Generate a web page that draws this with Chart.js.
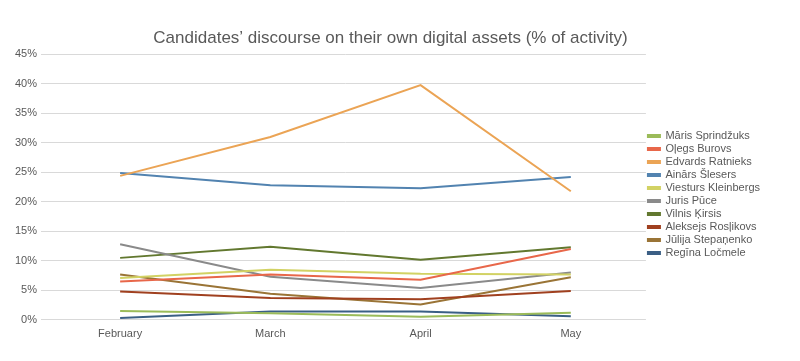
<!DOCTYPE html>
<html>
<head>
<meta charset="utf-8">
<script src="https://cdn.jsdelivr.net/npm/chart.js@4/dist/chart.umd.min.js"></script>
<style>
  html, body { margin: 0; padding: 0; background: #fff; }
  #wrap { width: 800px; height: 361px; }
</style>
</head>
<body>
<div id="wrap"><canvas id="chart"></canvas></div>
<script>
// Data (% of activity)
const months = ['February', 'March', 'April', 'May'];
const yTicks = [0, 5, 10, 15, 20, 25, 30, 35, 40, 45];

const marisSprindzuks   = [1.5, 1.1, 0.5, 1.2];
const olegsBurovs       = [6.5, 7.7, 6.8, 12.0];
const edvardsRatnieks   = [24.4, 31.0, 39.8, 21.8];
const ainarsSlesers     = [24.9, 22.8, 22.3, 24.2];
const viestursKleinbergs = [7.1, 8.5, 7.8, 7.7];
const jurisPuce         = [12.8, 7.3, 5.4, 8.0];
const vilnisKirsis      = [10.5, 12.4, 10.2, 12.3];
const aleksejsRosljkovs = [4.8, 3.7, 3.5, 4.9];
const julijaStepanenko  = [7.7, 4.4, 2.6, 7.2];
const reginaLocmele     = [0.3, 1.4, 1.4, 0.6];

const series = [
    ['Māris Sprindžuks', marisSprindzuks, '#9bbb59'],
    ['Oļegs Burovs', olegsBurovs, '#e8674a'],
    ['Edvards Ratnieks', edvardsRatnieks, '#eba455'],
    ['Ainārs Šlesers', ainarsSlesers, '#5283b0'],
    ['Viesturs Kleinbergs', viestursKleinbergs, '#d2d264'],
    ['Juris Pūce', jurisPuce, '#8a8a8a'],
    ['Vilnis Ķirsis', vilnisKirsis, '#62782f'],
    ['Aleksejs Rosļikovs', aleksejsRosljkovs, '#a0401f'],
    ['Jūlija Stepaņenko', julijaStepanenko, '#9a7436'],
    ['Regīna Ločmele', reginaLocmele, '#3b5f85']
];

const ctx = document.getElementById('chart').getContext('2d');
new Chart(ctx, {
    type: 'line',
    data: {
        labels: months,
        datasets: series.map(([label, data, color]) => ({
            label,
            data,
            borderColor: color,
            backgroundColor: color,
            borderWidth: 2,
            pointRadius: 0,
            tension: 0,
            fill: false
        }))
    },
    options: {
        responsive: true,
        maintainAspectRatio: false,
        animation: false,
        layout: { padding: { left: 11, right: 30, top: 22, bottom: 20 } },
        plugins: {
            title: {
                display: true,
                text: 'Candidates’ discourse on their own digital assets (% of activity)',
                color: '#595959',
                font: { family: 'Liberation Sans, Arial, sans-serif', size: 17, weight: 'normal' },
                padding: { top: 6, bottom: 6 }
            },
            legend: {
                position: 'right',
                // empty title only nudges the legend items down a little
                title: { display: true, text: ' ', font: { size: 10 }, padding: 7 },
                labels: {
                    color: '#595959',
                    font: { family: 'Liberation Sans, Arial, sans-serif', size: 11 },
                    boxWidth: 12,
                    boxHeight: 2,
                    padding: 2
                }
            },
            tooltip: { enabled: false }
        },
        scales: {
            x: {
                offset: true,
                grid: { display: false },
                border: { display: false },
                ticks: {
                    color: '#595959',
                    font: { family: 'Liberation Sans, Arial, sans-serif', size: 11 },
                    padding: 0
                }
            },
            y: {
                min: 0,
                max: 45,
                afterBuildTicks: axis => { axis.ticks = yTicks.map(v => ({ value: v })); },
                grid: { color: '#d9d9d9', drawTicks: true, tickLength: 4, tickColor: '#d9d9d9' },
                border: { display: false },
                ticks: {
                    color: '#595959',
                    font: { family: 'Liberation Sans, Arial, sans-serif', size: 11 },
                    padding: 4,
                    callback: v => v + '%'
                }
            }
        }
    }
});
</script>
</body>
</html>
